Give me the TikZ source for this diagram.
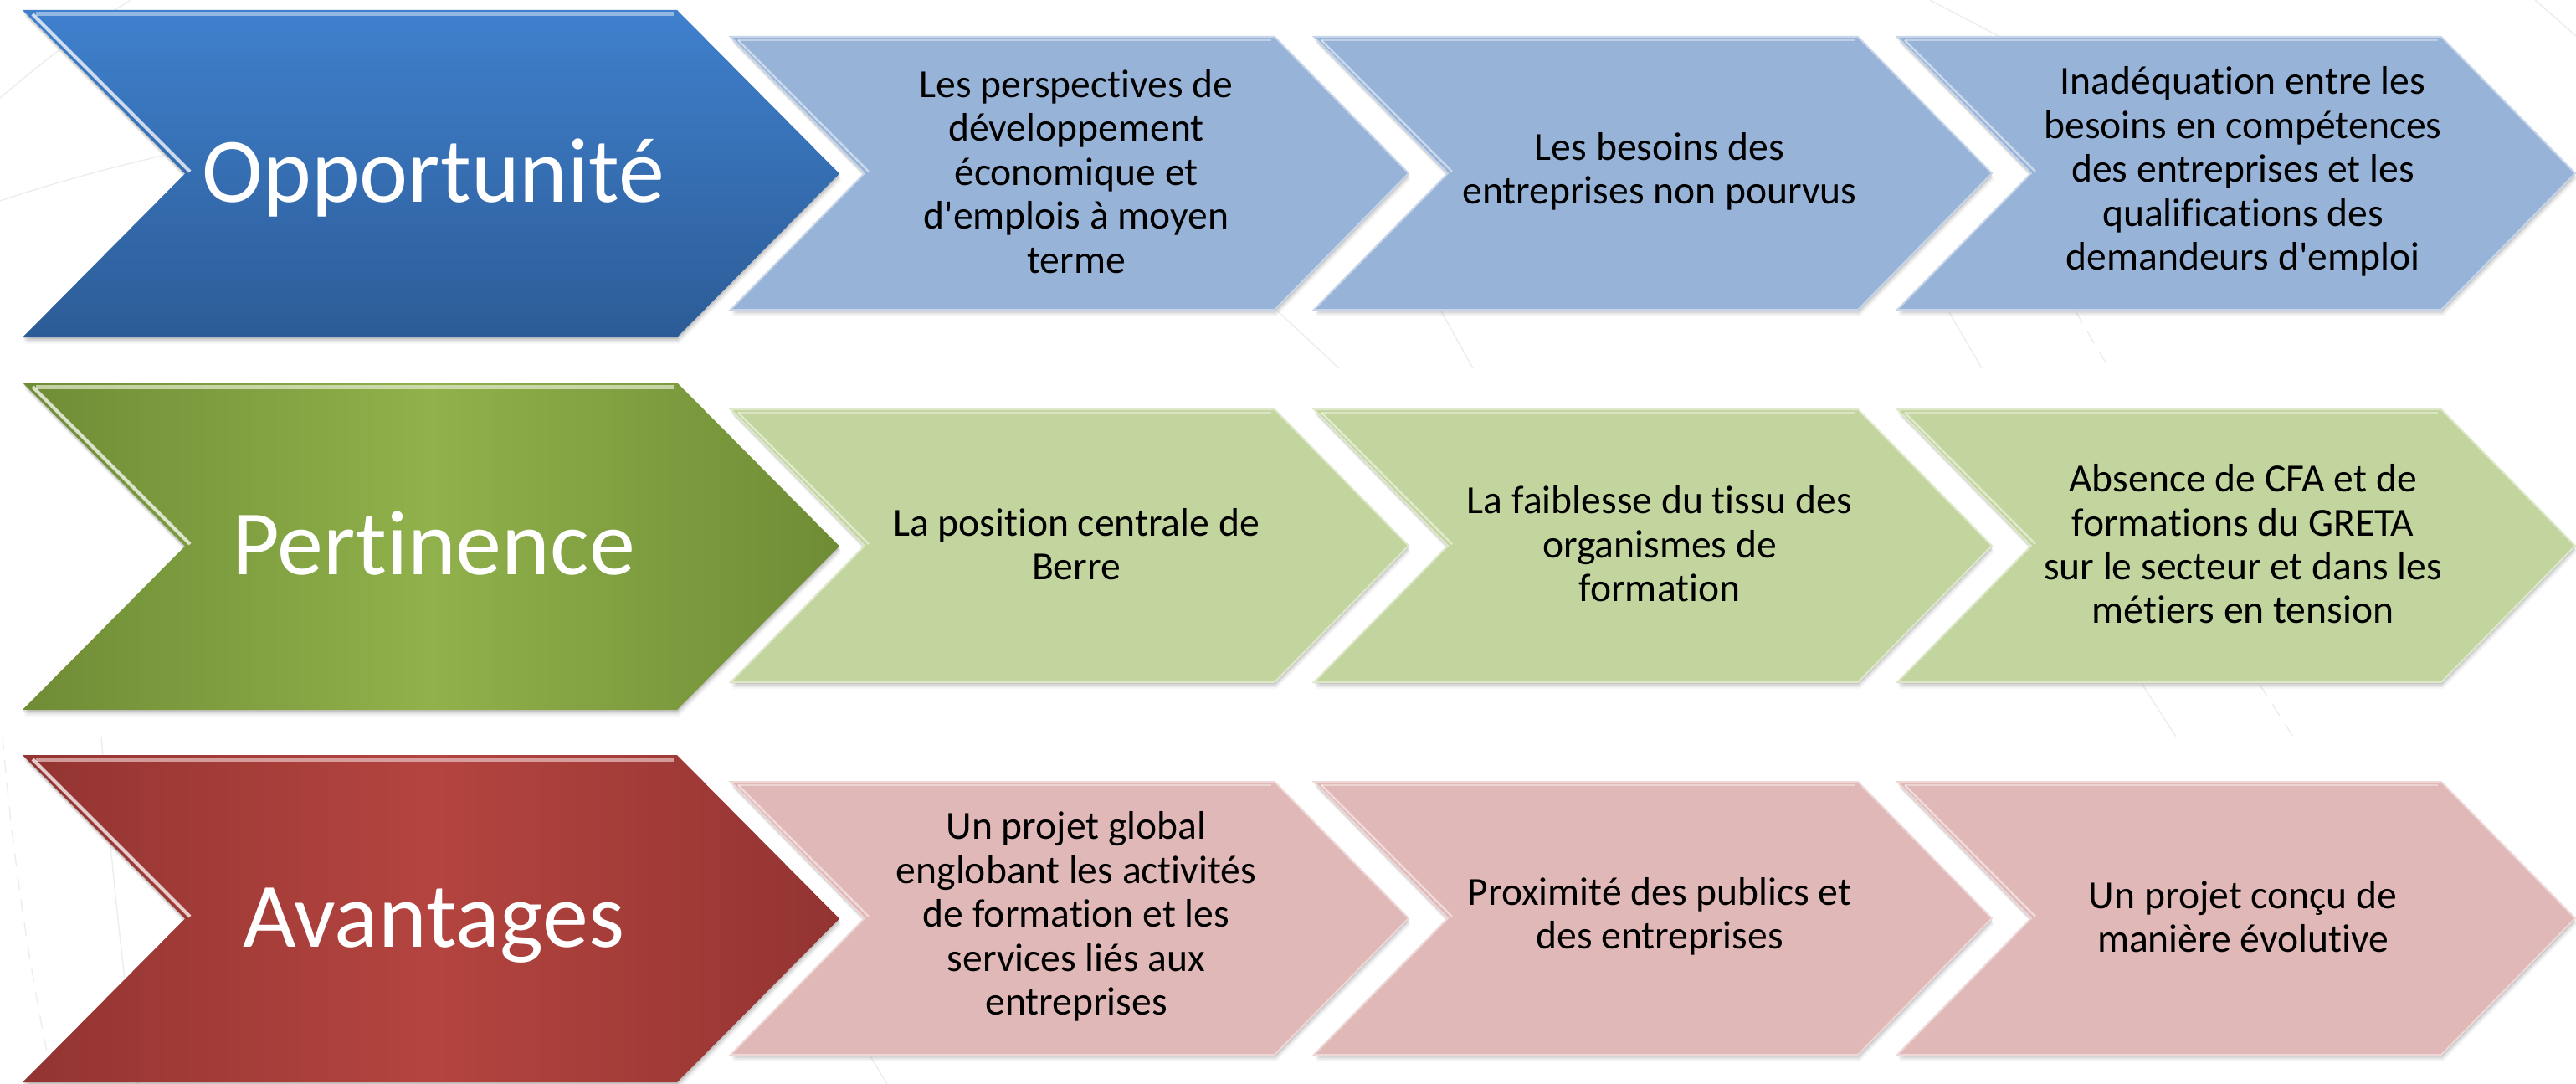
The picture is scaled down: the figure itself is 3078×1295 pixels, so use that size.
\documentclass[tikz,border=0pt]{standalone}
\usepackage{fontspec}
\setmainfont{Carlito}[Ligatures={TeXOff,NoCommon}]
\definecolor{bigblueT}{HTML}{3F80CD}
\definecolor{bigblueB}{HTML}{2C5C97}
\definecolor{biggreenE}{HTML}{6F8C35}
\definecolor{biggreenM}{HTML}{90B14B}
\definecolor{bigredE}{HTML}{933432}
\definecolor{bigredM}{HTML}{B4443F}
\definecolor{smblue}{HTML}{97B3D7}
\definecolor{smgreen}{HTML}{C3D59E}
\definecolor{smred}{HTML}{E0B8B7}
\definecolor{bgline}{HTML}{EDEDED}
% chevron outline: left, top, width, height, depth
\newcommand\chevp[5]{(#1,#2) -- ++(#3,0) -- ++(#5,#4/2) -- ++(-#5,#4/2) -- ++(-#3,0) -- ++(#5,-#4/2) -- cycle}
\newcommand\dropshadow[5]{%
  \foreach \o/\a in {8/0.03,6/0.05,4/0.07,2/0.09}{\fill[black,opacity=\a] \chevp{#1+\o*0.3}{#2+\o}{#3}{#4}{#5};}%
}
\newcommand\bigchev[4]{%
  \dropshadow{#1}{#2}{782}{391}{194}%
  \shade[#3] \chevp{#1}{#2}{782}{391}{194};%
  \draw[#4, line width=2.5pt, opacity=.75] (#1+16,#2+5) -- (#1+778,#2+5);%
  \draw[white, line width=2pt, opacity=.75] (#1+12,#2+5) -- (#1+200,#2+193);%
}
\newcommand\smchev[3]{%
  \dropshadow{#1}{#2}{650}{326}{160}%
  \fill[#3, draw=#3!55!white, line width=1pt] \chevp{#1}{#2}{650}{326}{160};%
  \draw[white, opacity=.5, line width=1.2pt] (#1+9,#2+4) -- (#1+165,#2+161);%
  \draw[white, opacity=.4, line width=1.2pt] (#1+9,#2+4) -- (#1+646,#2+4);%
}
\tikzset{
  bigtxt/.style={text=white, font=\fontsize{55}{66}\selectfont, anchor=base, inner sep=0pt},
  smtxt/.style={text=black, font=\fontsize{23.8}{26.2}\selectfont, align=center, anchor=center, inner sep=0pt},
  bgarc/.style={draw=bgline, line width=0.7pt},
  bgdash/.style={draw=bgline, line width=0.7pt, dash pattern=on 8pt off 6pt},
}
\begin{document}
\begin{tikzpicture}[x=0.5pt,y=-0.5pt]
\useasboundingbox (0,0) rectangle (3078,1295);
\fill[white] (0,0) rectangle (3078,1295);
% faint background arcs
\draw[bgarc] (0,117) .. controls (50,75) and (100,35) .. (156,0);
\draw[bgarc] (0,240) .. controls (60,220) and (130,200) .. (220,180);
\draw[bgarc] (121,880) .. controls (130,1000) and (145,1150) .. (165,1295);
\draw[bgdash] (3,880) .. controls (15,1020) and (35,1160) .. (64,1295);
\draw[bgarc] (2306,0) -- (2420,60);
\draw[bgarc] (3029,0) -- (3078,43);
\draw[bgarc] (1527,372) -- (1600,440);
\draw[bgarc] (1722,372) -- (1760,440);
\draw[bgdash] (2480,372) -- (2520,440);
\draw[bgarc] (2329,373) -- (2368,440);
\draw[bgarc] (1040,1262) -- (1060,1295);
\draw[bgarc] (2560,818) -- (2600,880);
\draw[bgdash] (2700,818) -- (2740,880);
% Row 1
\bigchev{27}{12}{top color=bigblueT,bottom color=bigblueB}{bigblueT!40!white}
\smchev{873}{44}{smblue}
\smchev{1570}{44}{smblue}
\smchev{2267}{44}{smblue}
\node[bigtxt] (opp) at (518,241) {Opportunité};
\node[smtxt] (o1) at (1286,205) {Les perspectives de\\développement\\économique et\\d'emplois à moyen\\terme};
\node[smtxt] (o2) at (1983,205) {Les besoins des\\entreprises non pourvus};
\node[smtxt] (o3) at (2680,205) {Inadéquation entre les\\besoins en compétences\\des entreprises et les\\qualifications des\\demandeurs d'emploi};
% Row 2
\bigchev{27}{457}{left color=biggreenE,right color=biggreenE,middle color=biggreenM}{biggreenM!30!white}
\smchev{873}{489}{smgreen}
\smchev{1570}{489}{smgreen}
\smchev{2267}{489}{smgreen}
\node[bigtxt] (per) at (518,686) {Pertinence};
\node[smtxt] (p1) at (1286,650) {La position centrale de\\Berre};
\node[smtxt] (p2) at (1983,650) {La faiblesse du tissu des\\organismes de\\formation};
\node[smtxt] (p3) at (2680,650) {Absence de CFA et de\\formations du GRETA\\sur le secteur et dans les\\métiers en tension};
% Row 3
\bigchev{27}{902}{left color=bigredE,right color=bigredE,middle color=bigredM}{bigredM!35!white}
\smchev{873}{934}{smred}
\smchev{1570}{934}{smred}
\smchev{2267}{934}{smred}
\node[bigtxt] (ava) at (518,1131) {Avantages};
\node[smtxt] (a1) at (1286,1095) {Un projet global\\englobant les activités\\de formation et les\\services liés aux\\entreprises};
\node[smtxt] (a2) at (1983,1095) {Proximité des publics et\\des entreprises};
\node[smtxt] (a3) at (2680,1095) {Un projet conçu de\\manière évolutive};
\end{tikzpicture}
\end{document}
